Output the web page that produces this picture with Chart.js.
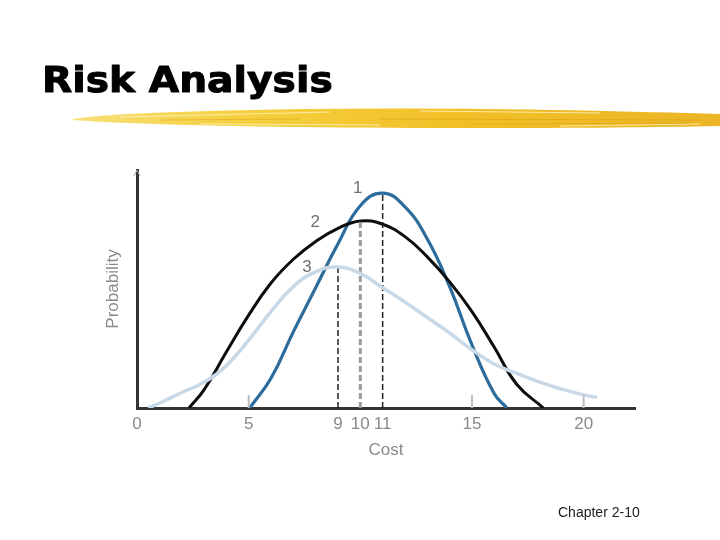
<!DOCTYPE html>
<html>
<head>
<meta charset="utf-8">
<script src="https://cdn.jsdelivr.net/npm/chart.js"></script>
<style>
  html, body { margin: 0; padding: 0; background: #fff; }
  #wrap { width: 720px; height: 540px; }
</style>
</head>
<body>
<div id="wrap"><canvas id="riskChart" width="720" height="540"></canvas></div>
<script>
// tick labels on the cost axis
const costTicks = [0, 5, 9, 10, 11, 15, 20];

// curve 1 (narrow, blue)
const cost1 = [5.05, 6, 7, 8, 9, 10, 11, 12, 13, 14, 15, 16, 16.57];
const prob1 = [0, 0.125, 0.32, 0.505, 0.69, 0.85, 0.903, 0.845, 0.71, 0.51, 0.265, 0.06, 0];

// curve 2 (black)
const cost2 = [2.33, 3, 4, 5, 6, 7, 8, 9, 10, 11, 12, 13, 14, 15, 16, 17, 18.2];
const prob2 = [0, 0.076, 0.235, 0.39, 0.525, 0.625, 0.7, 0.755, 0.786, 0.772, 0.72, 0.635, 0.53, 0.405, 0.255, 0.1, 0];

// curve 3 (wide, light blue)
const cost3 = [0.5, 1, 2, 3, 4, 5, 6, 7, 8, 9, 10, 11, 12, 13, 14, 15, 16, 17, 18, 19, 20, 20.6];
const prob3 = [0, 0.02, 0.065, 0.108, 0.178, 0.285, 0.405, 0.51, 0.572, 0.592, 0.565, 0.505, 0.445, 0.38, 0.315, 0.245, 0.185, 0.145, 0.11, 0.08, 0.055, 0.045];

// most likely cost of each curve (dashed markers)
const peakCost = [9, 10, 11];
const peakProb = [0.592, 0.786, 0.903];
const curveNames = ['3', '2', '1'];

const toPoints = (xs, ys) => xs.map((x, i) => ({ x: x, y: ys[i] }));

function dashedMarker(i, color, width) {
    return {
        data: [{ x: peakCost[i], y: 0 }, { x: peakCost[i], y: peakProb[i] }],
        borderColor: color,
        borderWidth: width,
        borderDash: [6, 3],
        pointRadius: 0,
        tension: 0
    };
}

const decorations = {
    id: 'decorations',
    beforeDraw(chart) {
        const ctx = chart.ctx;
        ctx.save();
        ctx.fillStyle = '#fff';
        ctx.fillRect(0, 0, chart.width, chart.height);

        // yellow brush stroke under the heading
        const grad = ctx.createLinearGradient(73, 0, 720, 0);
        grad.addColorStop(0, '#f8e07a');
        grad.addColorStop(0.25, '#f5d040');
        grad.addColorStop(0.6, '#f1c027');
        grad.addColorStop(1, '#ebb526');
        ctx.fillStyle = grad;
        ctx.beginPath();
        ctx.moveTo(73, 119);
        ctx.bezierCurveTo(110, 113, 200, 111, 300, 109);
        ctx.bezierCurveTo(460, 107, 620, 111, 720, 114);
        ctx.lineTo(720, 126);
        ctx.bezierCurveTo(620, 128, 460, 129, 300, 127);
        ctx.bezierCurveTo(200, 126, 110, 123, 73, 120);
        ctx.closePath();
        ctx.fill();
        // a few streaks for texture
        ctx.lineWidth = 1;
        ctx.strokeStyle = 'rgba(255,244,190,0.8)';
        ctx.beginPath();
        ctx.moveTo(120, 117); ctx.lineTo(330, 112);
        ctx.moveTo(420, 111); ctx.lineTo(600, 113);
        ctx.moveTo(200, 124); ctx.lineTo(380, 125);
        ctx.moveTo(560, 126); ctx.lineTo(700, 124);
        ctx.stroke();
        ctx.strokeStyle = 'rgba(214,150,10,0.45)';
        ctx.beginPath();
        ctx.moveTo(380, 119); ctx.lineTo(700, 120);
        ctx.moveTo(470, 124); ctx.lineTo(690, 123);
        ctx.moveTo(160, 120); ctx.lineTo(300, 119);
        ctx.stroke();

        // heading
        ctx.fillStyle = '#000';
        ctx.strokeStyle = '#000';
        ctx.lineWidth = 1;
        ctx.lineJoin = 'round';
        ctx.font = 'bold 36px "DejaVu Sans"';
        ctx.textBaseline = 'alphabetic';
        ctx.translate(42, 92);
        ctx.scale(1.09, 1);
        ctx.fillText('Risk Analysis', 0, 0);
        ctx.strokeText('Risk Analysis', 0, 0);
        ctx.restore();

        // footer
        ctx.save();
        ctx.fillStyle = '#222';
        ctx.font = '14px "Liberation Sans"';
        ctx.fillText('Chapter 2-10', 558, 517);
        ctx.restore();
    },
    afterDatasetsDraw(chart) {
        const ctx = chart.ctx;
        const x = chart.scales.x;
        const y = chart.scales.y;
        ctx.save();
        // short inward tick marks
        ctx.strokeStyle = '#bdbdbd';
        ctx.lineWidth = 2;
        costTicks.forEach(v => {
            if (v === 0 || peakCost.includes(v)) return;
            const px = x.getPixelForValue(v);
            ctx.beginPath();
            ctx.moveTo(px, y.bottom);
            ctx.lineTo(px, y.bottom - 13);
            ctx.stroke();
        });
        // curve numbers beside the peaks
        const offsets = [[-31, 0], [-45, 1], [-25, -5]];
        ctx.fillStyle = '#707070';
        ctx.font = '17px "Liberation Sans"';
        ctx.textAlign = 'center';
        ctx.textBaseline = 'middle';
        curveNames.forEach((name, i) => {
            const px = x.getPixelForValue(peakCost[i]) + offsets[i][0];
            const py = y.getPixelForValue(peakProb[i]) + offsets[i][1];
            ctx.fillText(name, px, py);
        });
        // small arrow head on the probability axis
        ctx.strokeStyle = '#aaa';
        ctx.lineWidth = 1;
        ctx.beginPath();
        ctx.moveTo(x.left - 3, y.top + 6);
        ctx.lineTo(x.left, y.top);
        ctx.lineTo(x.left + 3, y.top + 6);
        ctx.stroke();
        ctx.restore();
    }
};

new Chart(document.getElementById('riskChart').getContext('2d'), {
    type: 'line',
    data: {
        datasets: [
            {
                data: toPoints(cost3, prob3),
                borderColor: '#c9d8e6',
                borderWidth: 3.5,
                pointRadius: 0,
                tension: 0.45
            },
            dashedMarker(0, '#222', 1.5),
            dashedMarker(1, '#9a9a9a', 3),
            dashedMarker(2, '#222', 1.5),
            {
                data: toPoints(cost2, prob2),
                borderColor: '#0d0d0d',
                borderWidth: 3,
                pointRadius: 0,
                tension: 0.45
            },
            {
                data: toPoints(cost1, prob1),
                borderColor: '#2c6c9c',
                borderWidth: 3.2,
                pointRadius: 0,
                tension: 0.45
            }
        ]
    },
    options: {
        responsive: false,
        animation: false,
        layout: { padding: { left: 97, top: 170, right: 85, bottom: 72 } },
        plugins: {
            legend: { display: false },
            tooltip: { enabled: false }
        },
        scales: {
            x: {
                type: 'linear',
                min: 0,
                max: 22.3,
                afterBuildTicks(scale) {
                    scale.ticks = costTicks.map(v => ({ value: v }));
                },
                afterFit(scale) { scale.height = 60; },
                grid: { display: false, drawTicks: false },
                border: { display: true, color: '#333', width: 3 },
                ticks: {
                    color: '#8a8a8a',
                    padding: 6,
                    font: { family: 'Liberation Sans', size: 17 },
                    maxRotation: 0,
                    autoSkip: false
                },
                title: {
                    display: true,
                    text: 'Cost',
                    color: '#8a8a8a',
                    font: { family: 'Liberation Sans', size: 17 },
                    padding: { top: 0, bottom: 7 }
                }
            },
            y: {
                min: 0,
                max: 1,
                afterFit(scale) { scale.width = 40; },
                grid: { display: false, drawTicks: false },
                border: { display: true, color: '#333', width: 3 },
                ticks: { display: false },
                title: {
                    display: true,
                    text: 'Probability',
                    color: '#8a8a8a',
                    font: { family: 'Liberation Sans', size: 17 },
                    padding: { top: 6, bottom: 0 }
                }
            }
        }
    },
    plugins: [decorations]
});
</script>
</body>
</html>
